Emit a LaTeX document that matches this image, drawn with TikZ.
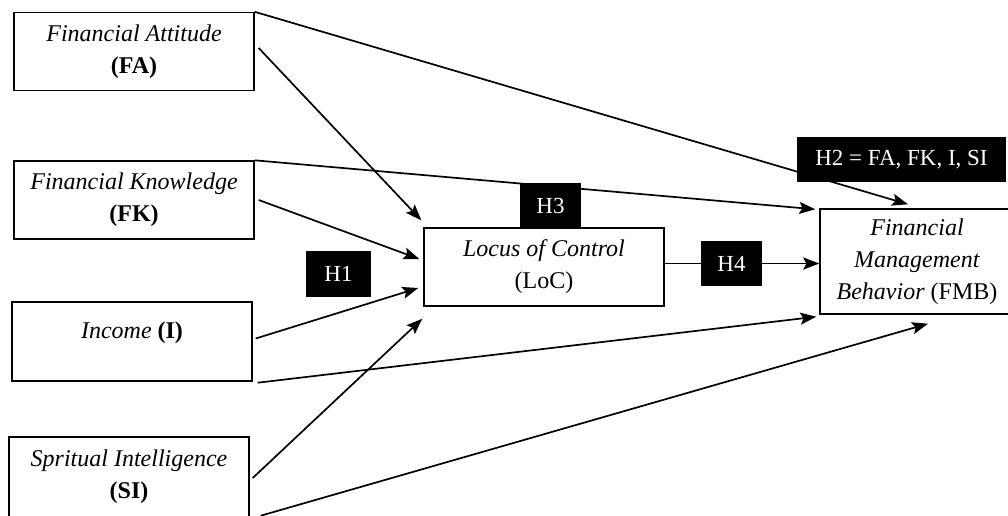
\documentclass[tikz,border=0pt]{standalone}
\usepackage{fontspec}
\setmainfont{Liberation Serif}
\usetikzlibrary{arrows.meta,backgrounds}
\begin{document}
\begin{tikzpicture}[x=1pt,y=-1pt,
  box/.style={draw, line width=1.4pt, fill=white, inner sep=0pt, align=center, font=\fontsize{24}{32}\selectfont},
  hyp/.style={fill=black, text=white, inner sep=0pt, font=\fontsize{23}{28}\selectfont},
  conn/.style={line width=1.7pt, -{Stealth[length=16pt,width=12pt,inset=3pt]}}]
\useasboundingbox (0,0) rectangle (1008,515);

% main boxes
\node[box, minimum width=240pt, minimum height=78pt] (fa) at (134,51.5) {\textit{Financial Attitude}\\\textbf{(FA)}};
\node[box, minimum width=240pt, minimum height=78pt] (fk) at (134,200) {\textit{Financial Knowledge}\\\textbf{(FK)}};
\node[box, minimum width=240pt, minimum height=79pt] (inc) at (132,341.5) {};
\node[inner sep=0pt, font=\fontsize{24}{32}\selectfont] (inct) at ([yshift=9pt]inc.center) {\textit{Income} \textbf{(I)}};
\node[box, minimum width=240pt, minimum height=80pt] (si) at (129,477) {\textit{Spritual Intelligence}\\\textbf{(SI)}};
\node[box, minimum width=240pt, minimum height=78pt] (loc) at (544,267) {\textit{Locus of Control}\\(LoC)};
\node[box, minimum width=194pt, minimum height=105pt] (fmb) at (917,261.5) {\textit{Financial}\\\textit{Management}\\\textit{Behavior} (FMB)};

% hypothesis labels
\node[hyp, minimum width=65pt, minimum height=46pt] (h1) at (338.5,274) {H1};
\node[hyp, minimum width=61pt, minimum height=45pt] (h3) at (550.5,205.5) {H3};
\node[hyp, minimum width=61pt, minimum height=45pt] (h4) at (731.5,263.5) {H4};
\node[hyp, minimum width=209pt, minimum height=45pt] (h2) at (901.5,159.5) {H2 = FA, FK, I, SI};

% connectors
\begin{scope}[on background layer]
\fill[white] (0,0) rectangle (1008,515);
\draw[conn] (fa.north east) -- ([shift={(-9,-4)}]fmb.north);
\draw[conn] ([shift={(4,-3.5)}]fa.east) -- ([shift={(-2,-7)}]loc.north west);
\draw[conn] (fk.north east) -- ([shift={(-4,1)}]fmb.north west);
\draw[conn] ([shift={(4,0)}]fk.east) -- ([shift={(-4,-8)}]loc.west);
\draw[conn] ([shift={(3,-3)}]inc.east) -- ([shift={(-5,21)}]loc.west);
\draw[conn] ([shift={(5,1)}]inc.south east) -- ([shift={(-3,2)}]fmb.south west);
\draw[conn] ([shift={(3,1)}]si.east) -- ([shift={(-1,12)}]loc.south west);
\draw[conn] ([shift={(11,-2)}]si.south east) -- ([shift={(11,9)}]fmb.south);
\draw[conn] (loc.east |- h4.center) -- (fmb.west |- h4.center);
\end{scope}
\end{tikzpicture}
\end{document}
